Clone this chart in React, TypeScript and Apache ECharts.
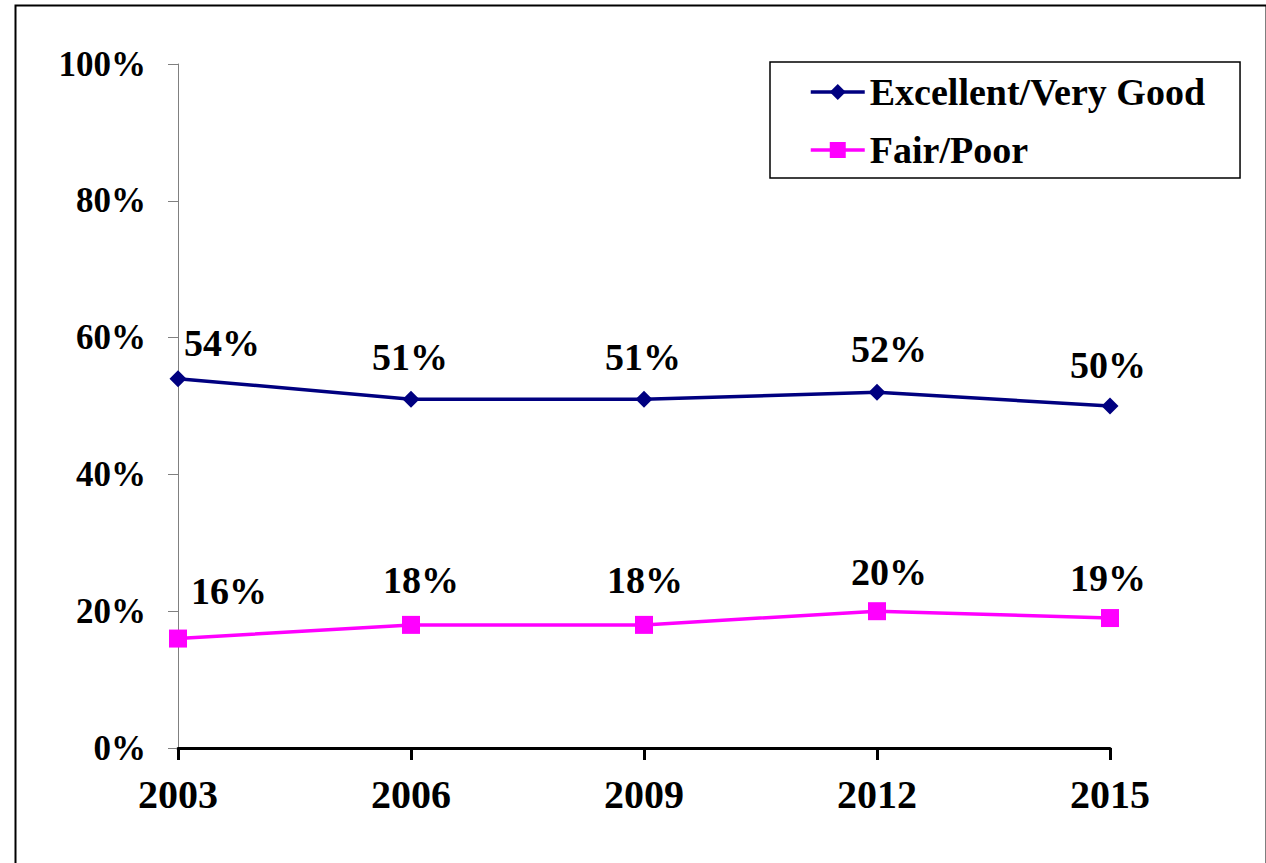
import React, { useEffect, useRef } from "react";
import * as echarts from "echarts";

const years = ["2003", "2006", "2009", "2012", "2015"];
const excellentVeryGood = [54, 51, 51, 52, 50];
const fairPoor = [16, 18, 18, 20, 19];
const seriesNames = ["Excellent/Very Good", "Fair/Poor"];

const FONT = "Liberation Serif";

export default function App() {
  const ref = useRef<HTMLDivElement>(null);
  useEffect(() => {
    if (!ref.current) return;
    const chart = echarts.init(ref.current, undefined, { renderer: "svg" });
    const labelBase = {
      show: true,
      position: "inside",
      fontFamily: FONT,
      fontWeight: "bold",
      fontSize: 38,
      color: "#000",
      formatter: "{c}%",
    };
    const excOffsets = [[44, -36], [-1, -42], [-1, -42], [12, -43], [-2, -41]];
    const fairOffsets = [[51, -48], [10, -45], [1, -45], [12, -39], [-2, -40]];
    const option = {
      animation: false,
      backgroundColor: "#fff",
      grid: { left: 178, right: 156, top: 64, bottom: 115, containLabel: false },
      legend: {
        orient: "vertical",
        left: 770,
        top: 62,
        padding: [10, 35, 8, 39],
        itemWidth: 54,
        itemHeight: 20,
        itemGap: 18,
        borderColor: "#000",
        borderWidth: 1.5,
        lineStyle: { width: 3.5 },
        textStyle: {
          fontFamily: FONT,
          fontWeight: "bold",
          fontSize: 38,
          lineHeight: 40,
          color: "#000",
        },
        data: seriesNames,
      },
      xAxis: {
        type: "category",
        data: years,
        boundaryGap: false,
        axisLine: { lineStyle: { color: "#000", width: 3 } },
        axisTick: { show: true, length: 12, lineStyle: { color: "#000", width: 3 } },
        axisLabel: {
          fontFamily: FONT,
          fontWeight: "bold",
          fontSize: 40,
          lineHeight: 40,
          color: "#000",
          margin: 26,
        },
        splitLine: { show: false },
      },
      yAxis: {
        type: "value",
        min: 0,
        max: 100,
        interval: 20,
        axisLine: { show: true, lineStyle: { color: "#808080", width: 1 } },
        axisTick: { show: true, length: 10, lineStyle: { color: "#808080", width: 1 } },
        axisLabel: {
          fontFamily: FONT,
          fontWeight: "bold",
          fontSize: 35,
          color: "#000",
          margin: 32,
          formatter: "{value}%",
        },
        splitLine: { show: false },
      },
      series: [
        {
          name: seriesNames[0],
          type: "line",
          data: excellentVeryGood.map((v, i) => ({ value: v, label: { offset: excOffsets[i] } })),
          symbol: "diamond",
          symbolSize: 17,
          lineStyle: { color: "#000080", width: 3.5 },
          itemStyle: { color: "#000080" },
          label: labelBase,
          z: 3,
        },
        {
          name: seriesNames[1],
          type: "line",
          data: fairPoor.map((v, i) => ({ value: v, label: { offset: fairOffsets[i] } })),
          symbol: "rect",
          symbolSize: 18,
          lineStyle: { color: "#FF00FF", width: 3.5 },
          itemStyle: { color: "#FF00FF" },
          label: labelBase,
          z: 3,
        },
      ],
      graphic: [
        {
          type: "rect",
          left: 13,
          top: 3,
          shape: { width: 1251, height: 900 },
          style: { fill: "none", stroke: "#000", lineWidth: 2 },
          silent: true,
        },
      ],
    };
    chart.setOption(option as any);
    return () => chart.dispose();
  }, []);
  return (
    <div
      ref={ref}
      style={{ position: "fixed", left: 0, top: 0, width: 1266, height: 863 }}
    />
  );
}
